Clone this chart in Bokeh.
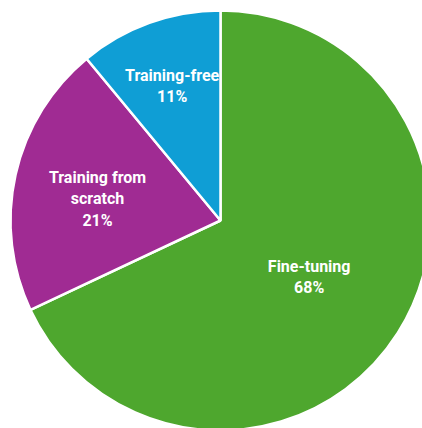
import math
from bokeh.plotting import figure
from bokeh.models import ColumnDataSource, Range1d
from bokeh.core.properties import value
from bokeh.embed import file_html
from bokeh.resources import INLINE

categories = ["Fine-tuning", "Training from\nscratch", "Training-free"]
shares = [68, 21, 11]
colors = ["#4EA72E", "#A02B93", "#0F9ED5"]

R = 210
label_frac = [0.5, 0.6, 0.68]
label_dy = [0, -6, 0]

starts, ends, lx, ly, labels = [], [], [], [], []
cum = 0.0
total = sum(shares)
for cat, s, f, dy in zip(categories, shares, label_frac, label_dy):
    a0 = math.pi / 2 - 2 * math.pi * cum / total
    a1 = math.pi / 2 - 2 * math.pi * (cum + s) / total
    starts.append(a0)
    ends.append(a1)
    mid = (a0 + a1) / 2
    lx.append(R * f * math.cos(mid))
    ly.append(R * f * math.sin(mid) + dy)
    labels.append(f"{cat}\n{s}%")
    cum += s

src = ColumnDataSource(dict(start=starts, end=ends, color=colors, lx=lx, ly=ly, label=labels))

p = figure(width=422, height=428, output_backend="svg", toolbar_location=None,
           x_range=Range1d(-220, 202), y_range=Range1d(-208, 220),
           min_border=0, min_border_left=0, min_border_right=0, min_border_top=0, min_border_bottom=0)
p.axis.visible = False
p.grid.visible = False
p.outline_line_color = None
p.background_fill_color = "white"
p.border_fill_color = "white"

p.wedge(x=0, y=0, radius=R, start_angle="start", end_angle="end", direction="clock",
        fill_color="color", line_color="white", line_width=2.5, source=src)
p.text(x="lx", y="ly", text="label", source=src, text_color="white",
       text_font=value("Roboto"), text_font_style="bold", text_font_size="16px",
       text_align="center", text_baseline="middle", text_line_height=1.12)

open("out.html", "w").write(file_html(p, INLINE))
